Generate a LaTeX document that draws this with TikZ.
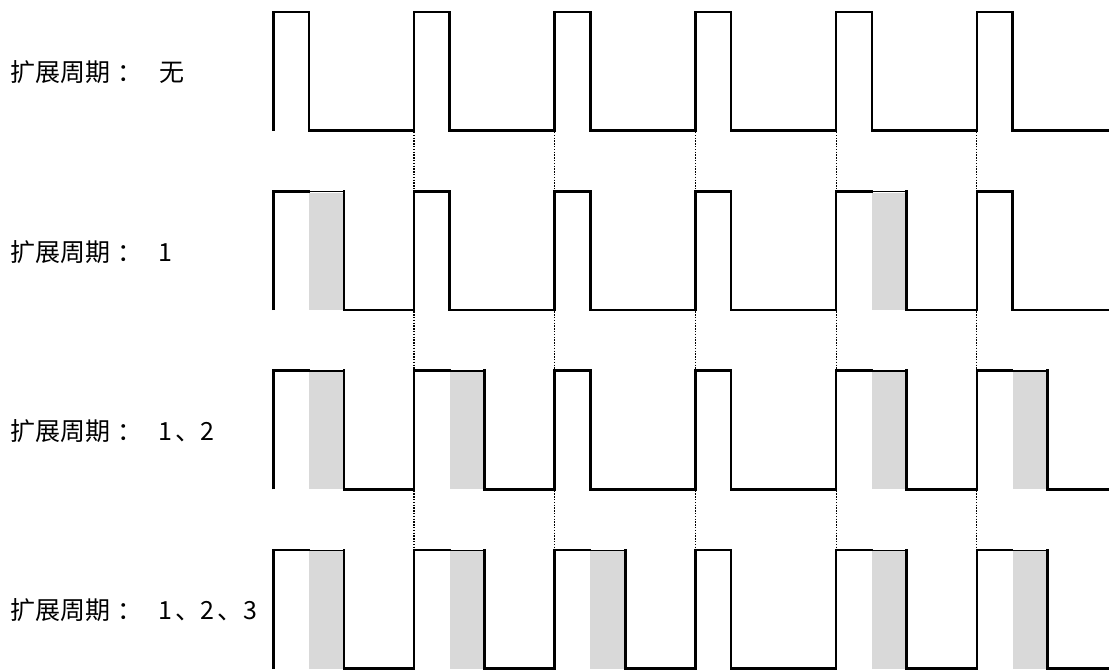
\documentclass[tikz,border=0pt]{standalone}
\usepackage{fontspec}
\newfontfamily\cjk{Noto Sans CJK SC}
\definecolor{extgray}{HTML}{D9D9D9}
\newcommand\wdig[1]{\makebox[17pt][l]{#1}}
\newcommand\wdun{\makebox[25.5pt][l]{、}}
\newcommand\wcolon{\makebox[25pt][l]{\hspace{7pt}：}}
\tikzset{
  wave/.style={line width=2.6pt, line join=miter, line cap=butt, black},
  thintop/.style={line width=1.4pt, black},
  extfill/.style={fill=extgray, draw=none},
  guide/.style={line width=1.1pt, dash pattern=on 1.4pt off 1.4pt, black},
  lbl/.style={anchor=west, inner sep=0pt, font=\cjk\fontsize{25pt}{25pt}\selectfont}
}
\begin{document}
\begin{tikzpicture}[x=1pt,y=-1pt]
\useasboundingbox (0,0) rectangle (1109,670);
% rows: index / extension flags per pulse / label text
\foreach \r/\pl/\txt in {
  0/{0/0,1/0,2/0,3/0,4/0,5/0}/{扩展周期\wcolon\hspace{24pt}无},
  1/{0/1,1/0,2/0,3/0,4/1,5/0}/{扩展周期\wcolon\hspace{23pt}1},
  2/{0/1,1/1,2/0,3/0,4/1,5/1}/{扩展周期\wcolon\hspace{23pt}\wdig{1}\wdun 2},
  3/{0/1,1/1,2/1,3/0,4/1,5/1}/{扩展周期\wcolon\hspace{23pt}\wdig{1}\wdun\wdig{2}\wdun 3}}{
  \pgfmathsetmacro\tp{12+179.3*\r}
  \pgfmathsetmacro\lo{\tp+118.7}
  \pgfmathsetmacro\mid{\tp+60.5}
  % grey extension areas
  \foreach \k/\e in \pl {
    \ifnum\e=1
      \fill[extfill] ({273.3+140.7*\k+35.7},{\tp+1}) rectangle ({273.3+140.7*\k+70.5},\lo);
    \fi
  }
  % waveform
  \draw[wave] (273.3,\lo)
    \foreach \k/\e in \pl {
      -- ({273.3+140.7*\k},\lo) -- ({273.3+140.7*\k},\tp)
      -- ({273.3+140.7*\k+35.7+34.8*\e},\tp)
      -- ({273.3+140.7*\k+35.7+34.8*\e},\lo)
    } -- (1109,\lo);
  % thinner top over the extension
  \foreach \k/\e in \pl {
    \ifnum\e=1
      \draw[white, line width=2.8pt] ({273.3+140.7*\k+36.5},\tp) -- ({273.3+140.7*\k+69.2},\tp);
      \draw[thintop] ({273.3+140.7*\k+35.7},{\tp+0.4}) -- ({273.3+140.7*\k+70.5},{\tp+0.4});
    \fi
  }
  % label
  \node[lbl] (lab\r) at (10,\mid) {\txt};
}
% dotted alignment guides between rows
\foreach \r in {0,1,2}{
  \pgfmathsetmacro\lo{12+179.3*\r+118.7}
  \pgfmathsetmacro\nt{12+179.3*(\r+1)}
  \foreach \k in {1,...,5}{
    \draw[guide] ({273.3+140.7*\k},{\lo+1.3}) -- ({273.3+140.7*\k},{\nt-1.3});
  }
}
\end{tikzpicture}
\end{document}
